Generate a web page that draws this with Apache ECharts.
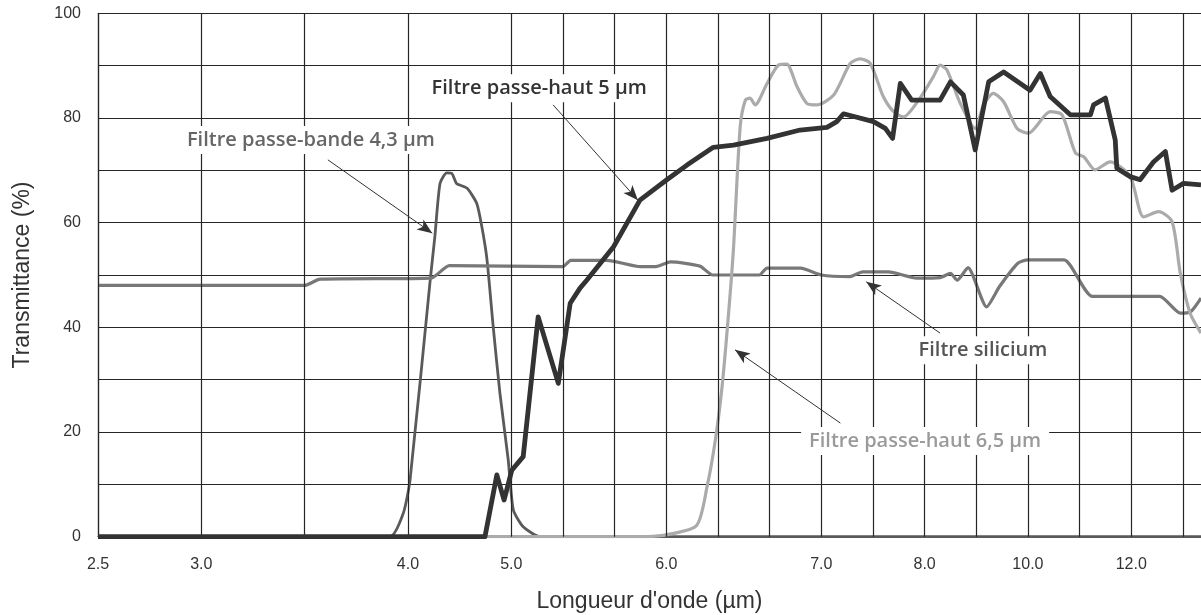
<!DOCTYPE html>
<html lang="fr">
<head>
  <meta charset="UTF-8">
  <title>Transmittance des filtres</title>
  <style>
    * { margin: 0; padding: 0; }
    html, body { background: #fff; }
    #main { width: 1201px; height: 615px; }
  </style>
</head>
<body>
  <div id="main"></div>
  <script src="https://cdn.jsdelivr.net/npm/echarts@6/dist/echarts.min.js"></script>
  <script>
    // x = position on the printed wavelength scale (1 unit = one narrow grid division)
    let xTickPos = [0, 2, 6, 8, 11, 14, 16, 18, 20]
    let xTickLabels = ['2.5', '3.0', '4.0', '5.0', '6.0', '7.0', '8.0', '10.0', '12.0']
    let xGridPos = [0, 2, 4, 6, 8, 9, 10, 11, 12, 13, 14, 15, 16, 17, 18, 19, 20, 21]

    let siliciumData = [
      [0, 48], [4.0, 48], [4.3, 49.2], [6.45, 49.4], [6.8, 51.8], [9.0, 51.6], [9.15, 52.8],
      [9.85, 52.8], [10.5, 51.6], [10.8, 51.6], [11.08, 52.5], [11.65, 51.7], [11.9, 50.0],
      [12.8, 50.0], [12.95, 51.3], [13.6, 51.3], [14.0, 50.0], [14.55, 49.7], [14.8, 50.6],
      [15.3, 50.6], [15.85, 49.4], [16.3, 49.5], [16.5, 50.3], [16.63, 49.0], [16.84, 51.4],
      [17.2, 43.9], [17.45, 47.8], [17.8, 52.2], [18.0, 52.9], [18.7, 52.9], [19.25, 45.9],
      [20.55, 45.9], [20.95, 42.7], [21.15, 43], [21.35, 45.6]
    ]
    let bande43Data = [
      [0, 0], [5.65, 0], [5.91, 4.5], [6.04, 10.8], [6.43, 49], [6.52, 57.3], [6.62, 67.5],
      [6.75, 69.5], [6.85, 69.4], [6.94, 67.5], [7.14, 66.6], [7.33, 63.7], [7.43, 59.2],
      [7.53, 52.9], [7.65, 40.1], [7.78, 27.4], [7.94, 14.7], [8.04, 5.1], [8.23, 1.9],
      [8.56, 0], [21.35, 0]
    ]
    let haut5Data = [
      [0, 0], [7.49, 0], [7.72, 11.8], [7.86, 7.0], [8.01, 12.7], [8.23, 15.3], [8.52, 42.0],
      [8.91, 29.3], [9.14, 44.6], [9.33, 47.5], [9.46, 49], [9.98, 55.4], [10.49, 64.3],
      [11.01, 68.2], [11.4, 71.0], [11.91, 74.4], [12.3, 74.8], [12.95, 76.1], [13.59, 77.7],
      [14.11, 78.2], [14.3, 79.3], [14.43, 80.8], [15.01, 79.3], [15.24, 78.0], [15.38, 76.1],
      [15.53, 86.6], [15.75, 83.4], [16.3, 83.4], [16.5, 86.9], [16.75, 84.4], [16.98, 73.9],
      [17.24, 86.9], [17.53, 88.8], [18.04, 85.3], [18.24, 88.5], [18.43, 84.1], [18.82, 80.6],
      [19.21, 80.6], [19.27, 82.5], [19.5, 83.8], [19.69, 75.8], [19.72, 70.4], [19.98, 68.8],
      [20.17, 68.2], [20.43, 71.6], [20.66, 73.6], [20.79, 66.2], [21.01, 67.5], [21.35, 67.2]
    ]
    let haut65Data = [
      [0, 0], [10.49, 0], [11.07, 0.5], [11.59, 2.2], [11.79, 9.6], [11.95, 18.5], [12.08, 28.7],
      [12.2, 42], [12.3, 55], [12.43, 78.3], [12.53, 83.4], [12.62, 83.8], [12.72, 82.5],
      [12.95, 86.6], [13.17, 90.1], [13.33, 90.3], [13.53, 86.0], [13.72, 82.8], [13.91, 82.5],
      [14.24, 84.4], [14.56, 90.4], [14.75, 91.3], [14.95, 90.4], [15.2, 84.1], [15.4, 81.2],
      [15.59, 80.2], [15.91, 83.8], [16.17, 87.9], [16.3, 90.1], [16.43, 89.2], [16.69, 82.8],
      [16.98, 78], [17.14, 82.5], [17.33, 84.7], [17.53, 83.1], [17.79, 78.0], [18.01, 77.1],
      [18.43, 81.2], [18.66, 80.6], [18.92, 73.3], [19.08, 72.6], [19.3, 70.1], [19.59, 71.6],
      [19.98, 68.8], [20.24, 61.1], [20.53, 62.1], [20.79, 60.2], [20.95, 50.3], [21.14, 42.7],
      [21.35, 38.9]
    ]

    let gridColor = '#262626'
    let chart = echarts.init(document.getElementById('main'))

    // annotation: text centre + arrow start/end, in axis units
    function note(text, color, at, from, to) {
      return {
        text: { name: text, coord: at, label: { color: color } },
        arrow: [{ coord: from }, { coord: to }]
      }
    }
    let notes = [
      note('Filtre passe-bande 4,3 µm', '#666', [4.12, 75.8], [4.45, 72.0], [6.47, 58.0]),
      note('Filtre passe-haut 5 µm', '#333', [8.54, 85.7], [8.81, 82.5], [10.45, 64.3]),
      note('Filtre silicium', '#555', [17.13, 35.6], [16.3, 38.9], [14.87, 48.7]),
      note('Filtre passe-haut 6,5 µm', '#9a9a9a', [16.01, 18.3], [14.37, 21.7], [12.33, 35.7])
    ]

    function lineSeries(name, data, color, width, z, smooth) {
      return {
        name: name,
        type: 'line',
        data: data,
        showSymbol: false,
        smooth: smooth,
        z: z,
        lineStyle: { color: color, width: width, join: 'round' },
        animation: false
      }
    }

    let option = {
      backgroundColor: '#fff',
      animation: false,
      grid: { left: 98, right: 0, top: 13.3, bottom: 78.3, containLabel: false, outerBoundsMode: 'none' },
      xAxis: {
        type: 'value',
        min: 0,
        max: 21.35,
        interval: 1,
        name: "Longueur d'onde (µm)",
        nameLocation: 'middle',
        nameGap: 53,
        nameTextStyle: { fontFamily: 'Liberation Sans', fontSize: 23, color: '#333' },
        axisLine: { show: true, lineStyle: { color: gridColor, width: 1.2 } },
        axisTick: { show: false },
        splitLine: { show: false },
        axisLabel: {
          margin: 20,
          fontFamily: 'Liberation Sans',
          fontSize: 16,
          color: '#333',
          showMaxLabel: false,
          formatter: function (v) {
            let i = xTickPos.indexOf(Math.round(v * 100) / 100)
            return i >= 0 ? xTickLabels[i] : ''
          }
        }
      },
      yAxis: {
        type: 'value',
        min: 0,
        max: 100,
        interval: 20,
        name: 'Transmittance (%)',
        nameLocation: 'middle',
        nameRotate: 90,
        nameGap: 64,
        nameTextStyle: { fontFamily: 'Liberation Sans', fontSize: 23, color: '#333' },
        axisLine: { show: true, lineStyle: { color: gridColor, width: 1.2 } },
        axisTick: { show: false },
        minorTick: { show: false, splitNumber: 2 },
        splitLine: { show: true, lineStyle: { color: gridColor, width: 1.2 } },
        minorSplitLine: { show: true, lineStyle: { color: gridColor, width: 1.2 } },
        axisLabel: { margin: 17, fontFamily: 'Liberation Sans', fontSize: 16, color: '#333' }
      },
      series: [
        {
          name: 'grille',
          type: 'line',
          data: [],
          z: 1,
          silent: true,
          markLine: {
            silent: true,
            symbol: ['none', 'none'],
            label: { show: false },
            lineStyle: { color: gridColor, width: 1.2, type: 'solid' },
            data: xGridPos.map(function (p) { return { xAxis: p } })
          }
        },
        lineSeries('Filtre passe-bande 4,3 µm', bande43Data, '#5a5a5a', 2.8, 2, 0.2),
        lineSeries('Filtre silicium', siliciumData, '#787878', 3.2, 3, 0.2),
        lineSeries('Filtre passe-haut 6,5 µm', haut65Data, '#ababab', 3.2, 4, 0.25),
        lineSeries('Filtre passe-haut 5 µm', haut5Data, '#333', 4.8, 5, false),
        {
          name: 'annotations',
          type: 'line',
          data: [],
          z: 6,
          markLine: {
            silent: true,
            symbol: ['none', 'arrow'],
            symbolSize: [9, 15],
            label: { show: false },
            lineStyle: { color: '#333', width: 1, type: 'solid' },
            data: notes.map(function (n) { return n.arrow })
          },
          markPoint: {
            silent: true,
            symbolSize: 0,
            label: {
              show: true,
              position: 'inside',
              formatter: '{b}',
              fontFamily: 'Open Sans',
              fontWeight: 600,
              fontSize: 20,
              backgroundColor: '#fff',
              padding: [4, 8]
            },
            data: notes.map(function (n) { return n.text })
          }
        }
      ]
    }
    chart.setOption(option)
  </script>
</body>
</html>
